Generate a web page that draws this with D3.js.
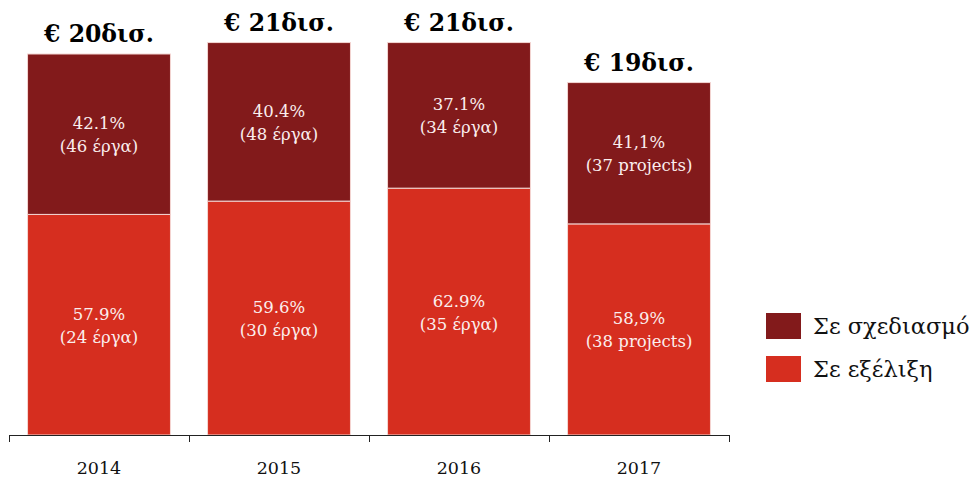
<!DOCTYPE html>
<html>
<head>
<meta charset="utf-8">
<script src="https://cdn.jsdelivr.net/npm/d3@7"></script>
<style>
  body { margin: 0; background: #fff; }
  svg text { font-family: "DejaVu Serif", Georgia, serif; }
</style>
</head>
<body>
<div id="chart"></div>
<script>
// data
var years = ["2014", "2015", "2016", "2017"];
var totals = [20.0, 20.6, 20.6, 18.5];          // € bn, bar heights
var totalLabels = ["€ 20δισ.", "€ 21δισ.", "€ 21δισ.", "€ 19δισ."];
var progressPct = [57.9, 59.6, 62.9, 59.9];      // Σε εξέλιξη (drawn share)
var planningPct = [42.1, 40.4, 37.1, 40.1];      // Σε σχεδιασμό (drawn share)
var progressLabels = ["57.9%", "59.6%", "62.9%", "58,9%"];
var planningLabels = ["42.1%", "40.4%", "37.1%", "41,1%"];
var progressCounts = ["(24 έργα)", "(30 έργα)", "(35 έργα)", "(38 projects)"];
var planningCounts = ["(46 έργα)", "(48 έργα)", "(34 έργα)", "(37 projects)"];
var seriesNames = ["Σε σχεδιασμό", "Σε εξέλιξη"];

var colors = { planning: "#821a1b", progress: "#d62e1f" };

var width = 974, height = 478;
var baseY = 435;

var svg = d3.select("#chart").append("svg")
    .attr("width", width)
    .attr("height", height);

var rows = years.map(function(y, i) {
  return {
    year: y,
    progress: totals[i] * progressPct[i] / 100,
    planning: totals[i] * planningPct[i] / 100
  };
});

var x = d3.scaleBand()
    .domain(years)
    .range([9, 729])
    .paddingInner(0.206)
    .paddingOuter(0.103);

var y = d3.scaleLinear()
    .domain([0, 20])
    .range([baseY, 54]);

var stack = d3.stack().keys(["progress", "planning"]);
var layers = stack(rows);

var groups = svg.selectAll("g.layer")
    .data(layers)
  .enter().append("g")
    .attr("class", "layer")
    .attr("fill", function(d) { return colors[d.key]; });

groups.selectAll("rect")
    .data(function(d) { return d; })
  .enter().append("rect")
    .attr("x", function(d) { return x(d.data.year); })
    .attr("y", function(d) { return y(d[1]); })
    .attr("width", x.bandwidth())
    .attr("height", function(d) { return y(d[0]) - y(d[1]); })
    .attr("stroke", "#f4d6d3")
    .attr("stroke-width", 1);

// labels inside segments
layers.forEach(function(layer) {
  var pl = layer.key === "progress" ? progressLabels : planningLabels;
  var cl = layer.key === "progress" ? progressCounts : planningCounts;
  var g = svg.append("g");
  layer.forEach(function(d, i) {
    var cx = x(d.data.year) + x.bandwidth() / 2;
    var cy = (y(d[0]) + y(d[1])) / 2;
    var t = g.append("text")
        .attr("text-anchor", "middle")
        .attr("fill", "#fbeeee")
        .style("font-size", "16.5px");
    t.append("tspan").attr("x", cx).attr("y", cy - 5).text(pl[i]);
    t.append("tspan").attr("x", cx).attr("y", cy + 18).text(cl[i]);
  });
});

// totals above bars
svg.selectAll("text.total")
    .data(rows)
  .enter().append("text")
    .attr("class", "total")
    .attr("x", function(d) { return x(d.year) + x.bandwidth() / 2; })
    .attr("y", function(d) { return y(d.progress + d.planning) - 12; })
    .attr("text-anchor", "middle")
    .style("font-size", "23.5px")
    .style("font-weight", "bold")
    .attr("fill", "#000")
    .text(function(d, i) { return totalLabels[i]; });

// axis with ticks at band edges
var xe = d3.scaleLinear().domain([0, years.length]).range([9, 729]);
var axis = svg.append("g")
    .attr("transform", "translate(0," + baseY + ")")
    .call(d3.axisBottom(xe).ticks(years.length).tickSize(7).tickSizeOuter(7).tickFormat(""));
axis.select(".domain").attr("stroke", "#222");
axis.selectAll(".tick line").attr("stroke", "#222");

svg.selectAll("text.year")
    .data(years)
  .enter().append("text")
    .attr("class", "year")
    .attr("x", function(d) { return x(d) + x.bandwidth() / 2; })
    .attr("y", 474)
    .attr("text-anchor", "middle")
    .style("font-size", "17.5px")
    .attr("fill", "#111")
    .text(function(d) { return d; });

// legend
var legend = svg.selectAll("g.legend")
    .data(seriesNames)
  .enter().append("g")
    .attr("class", "legend")
    .attr("transform", function(d, i) { return "translate(766," + (313 + i * 43) + ")"; });

legend.append("rect")
    .attr("width", 35)
    .attr("height", 26)
    .attr("fill", function(d, i) { return i === 0 ? colors.planning : colors.progress; });

legend.append("text")
    .attr("x", 47)
    .attr("y", 21)
    .style("font-size", "22.5px")
    .attr("fill", "#111")
    .text(function(d) { return d; });
</script>
</body>
</html>
